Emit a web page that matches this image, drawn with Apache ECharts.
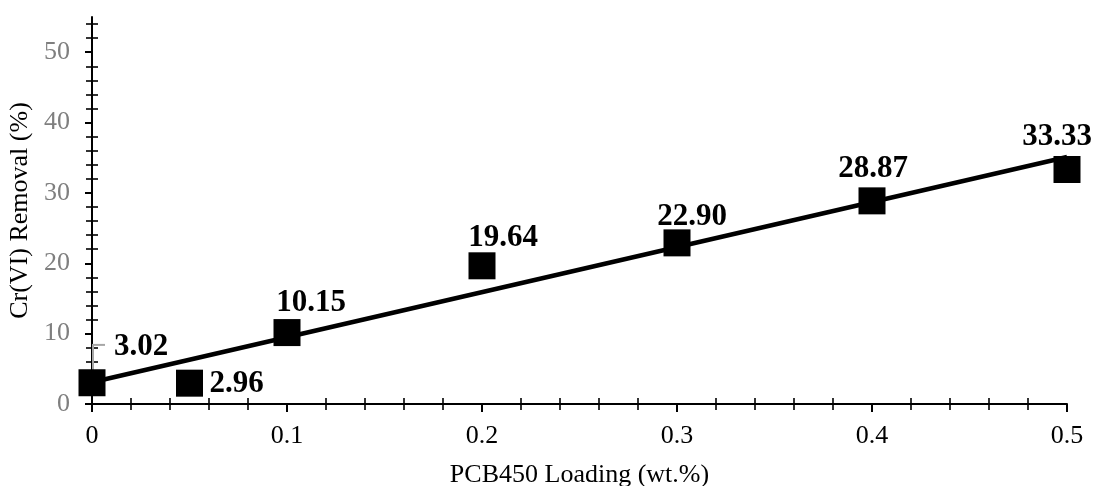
<!DOCTYPE html>
<html>
<head>
<meta charset="utf-8">
<script src="https://cdn.jsdelivr.net/npm/echarts@6/dist/echarts.min.js"></script>
<style>
html, body { margin: 0; padding: 0; background: #fff; }
#main { width: 1093px; height: 486px; }
</style>
</head>
<body>
<div id="main"></div>
<script>
// 数据
var loading = [0, 0.05, 0.1, 0.2, 0.3, 0.4, 0.5];           // wt.%
var removal = [3.02, 2.96, 10.15, 19.64, 22.90, 28.87, 33.33]; // %
var trendX = [0, 0.5];
var trendY = [3.1, 35.1];
var errBar = [[0, 3.02, 8.4]]; // x, low, high

var majorX = [0, 0.1, 0.2, 0.3, 0.4, 0.5];
var minorX = [0.02, 0.04, 0.06, 0.08, 0.12, 0.14, 0.16, 0.18, 0.22, 0.24, 0.26, 0.28,
              0.32, 0.34, 0.36, 0.38, 0.42, 0.44, 0.46, 0.48];
var majorY = [0, 10, 20, 30, 40, 50];
var minorY = [2, 4, 6, 8, 12, 14, 16, 18, 22, 24, 26, 28, 32, 34, 36, 38,
              42, 44, 46, 48, 52, 54];

// 标签偏移 (像素)
var labelOffsets = [[49, -36], [47, 1], [24, -30], [21, -28], [15, -26], [1, -32], [-10, -32]];

var serif = "'Liberation Serif', 'Times New Roman', serif";

function tickAxis(ticks, inside, len, extra) {
    var ax = {
        type: 'value',
        axisLine: { show: false },
        axisLabel: { show: false },
        splitLine: { show: false },
        axisTick: {
            show: true,
            inside: inside,
            length: len,
            customValues: ticks,
            lineStyle: { color: '#000', width: 1.6 }
        }
    };
    for (var k in extra) ax[k] = extra[k];
    return ax;
}

var xr = { min: 0, max: 0.5, interval: 0.1 };
var yr = { min: 0, max: 55, interval: 10 };

var xAxes = [
    {
        type: 'value', min: 0, max: 0.5, interval: 0.1,
        name: 'PCB450 Loading (wt.%)',
        nameLocation: 'middle',
        nameGap: 58,
        nameTextStyle: { fontFamily: serif, fontSize: 26, color: '#000' },
        axisLine: { show: true, onZero: false, lineStyle: { color: '#000', width: 2 } },
        axisTick: { show: true, length: 8, customValues: majorX, lineStyle: { color: '#000', width: 2 } },
        axisLabel: { customValues: majorX, margin: 19, fontFamily: serif, fontSize: 26, color: '#000' },
        splitLine: { show: false }
    },
    tickAxis(majorX, true, 8, xr),
    tickAxis(minorX, false, 6, xr),
    tickAxis(minorX, true, 6, xr)
];

var yAxes = [
    {
        type: 'value', min: 0, max: 55, interval: 10,
        name: 'Cr(VI) Removal (%)',
        nameLocation: 'middle',
        nameGap: 59,
        nameTextStyle: { fontFamily: serif, fontSize: 26, color: '#000' },
        axisLine: { show: true, onZero: false, lineStyle: { color: '#000', width: 2 } },
        axisTick: { show: true, length: 7, customValues: majorY, lineStyle: { color: '#000', width: 2 } },
        axisLabel: { customValues: majorY, margin: 22, fontFamily: serif, fontSize: 26, color: '#7f7f7f' },
        splitLine: { show: false }
    },
    tickAxis(majorY, true, 7, yr),
    tickAxis(minorY, false, 6, yr),
    tickAxis(minorY, true, 6, yr)
];

var points = loading.map(function (x, i) {
    return {
        value: [x, removal[i]],
        label: { offset: labelOffsets[i] }
    };
});

var myChart = echarts.init(document.getElementById('main'));
var option = {
    backgroundColor: '#fff',
    animation: false,
    grid: { left: 92, right: 26, top: 17, bottom: 82, containLabel: false, outerBoundsMode: 'none' },
    xAxis: xAxes,
    yAxis: yAxes,
    series: [
        {
            name: 'trend',
            type: 'line',
            data: trendX.map(function (x, i) { return [x, trendY[i]]; }),
            showSymbol: false,
            lineStyle: { color: '#000', width: 4.5 },
            z: 2
        },
        {
            name: 'error',
            type: 'custom',
            data: errBar,
            renderItem: function (params, api) {
                var lo = api.coord([api.value(0), api.value(1)]);
                var hi = api.coord([api.value(0), api.value(2)]);
                return {
                    type: 'group',
                    children: [
                        { type: 'line', shape: { x1: lo[0] + 1, y1: lo[1], x2: hi[0] + 1, y2: hi[1] },
                          style: { stroke: '#a6a6a6', lineWidth: 2 } },
                        { type: 'line', shape: { x1: hi[0], y1: hi[1], x2: hi[0] + 13, y2: hi[1] },
                          style: { stroke: '#a6a6a6', lineWidth: 2 } }
                    ]
                };
            },
            z: 3
        },
        {
            name: 'removal',
            type: 'scatter',
            symbol: 'rect',
            symbolSize: 27,
            itemStyle: { color: '#000', opacity: 1 },
            data: points,
            label: {
                show: true,
                position: 'inside',
                formatter: function (p) { return p.value[1].toFixed(2); },
                fontFamily: serif,
                fontWeight: 'bold',
                fontSize: 31,
                color: '#000'
            },
            z: 4
        }
    ]
};
myChart.setOption(option);
</script>
</body>
</html>
